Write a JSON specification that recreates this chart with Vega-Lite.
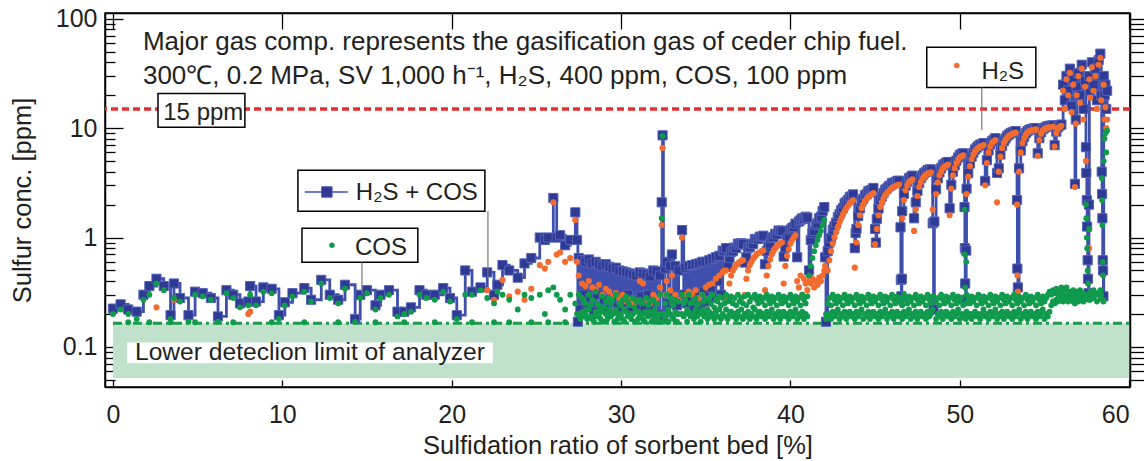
{
"$schema":"https://vega.github.io/schema/vega-lite/v6.json",
"width":1025,"height":374,"autosize":"none",
"padding":{"left":105,"top":13,"right":14,"bottom":75},
"background":"white",
"config":{"view":{"stroke":"black","strokeWidth":1.5},"font":"Liberation Sans",
"axis":{"grid":false,"domainColor":"black","domainWidth":1.5,"tickColor":"black","tickWidth":1.3,"labelColor":"#231f20","labelFont":"Liberation Sans","titleFont":"Liberation Sans","titleFontWeight":"normal","titleColor":"#231f20"}},
"datasets":{"s":[
{"x":0,"b":0.224,"c":0.2},{"x":0.45,"b":0.245,"c":0.22},{"x":0.9,"b":0.22,"c":0.2,"d":0.168},{"x":1.4,"b":0.21,"c":0.18},{"x":1.8,"b":0.3,"c":0.27},{"x":2.15,"b":0.36,"c":0.3,"d":0.168},{"x":2.57,"b":0.42,"c":0.38,"h":0.23},{"x":3.0,"b":0.36,"c":0.33},{"x":3.4,"b":0.195,"c":0.18,"d":0.168},{"x":3.6,"b":0.38,"c":0.28,"h":0.27},{"x":3.96,"b":0.28,"c":0.26},{"x":4.46,"b":0.195,"c":0.17},{"x":4.85,"b":0.32,"c":0.3,"d":0.168},{"x":5.3,"b":0.31,"c":0.29},{"x":5.78,"b":0.28,"c":0.27},{"x":6.2,"b":0.19,"c":0.17},{"x":6.7,"b":0.33,"c":0.31},{"x":7.1,"b":0.3,"c":0.28,"d":0.168},{"x":7.5,"b":0.25,"c":0.23},{"x":7.99,"b":0.26,"c":0.24,"h":0.2},{"x":8.1,"b":0.36,"c":0.3,"h":0.21},{"x":8.45,"b":0.26,"c":0.24},{"x":8.88,"b":0.35,"c":0.32},{"x":9.37,"b":0.34,"c":0.31,"d":0.168},{"x":9.8,"b":0.195,"c":0.18},{"x":10.15,"b":0.256,"c":0.24},{"x":10.6,"b":0.31,"c":0.29},{"x":11.3,"b":0.345,"c":0.32,"d":0.168},{"x":11.7,"b":0.27,"c":0.26},{"x":12.3,"b":0.41,"c":0.38},{"x":12.8,"b":0.3,"c":0.28},{"x":13.3,"b":0.27,"c":0.25,"d":0.168},{"x":13.7,"b":0.37,"c":0.34},{"x":14.3,"b":0.18,"c":0.17},{"x":14.6,"b":0.3,"c":0.28},{"x":15.0,"b":0.33,"c":0.31},{"x":15.5,"b":0.24,"c":0.22,"d":0.168},{"x":15.8,"b":0.3,"c":0.28},{"x":16.3,"b":0.33,"c":0.3},{"x":16.8,"b":0.21,"c":0.19},{"x":17.2,"b":0.21,"c":0.2,"d":0.168},{"x":17.6,"b":0.23,"c":0.21},{"x":18.1,"b":0.33,"c":0.3},{"x":18.5,"b":0.3,"c":0.28},{"x":19.0,"b":0.3,"c":0.27,"d":0.168},{"x":19.5,"b":0.345,"c":0.32},{"x":19.9,"b":0.28,"c":0.26},{"x":20.3,"b":0.195,"c":0.18},{"x":20.8,"b":0.5,"c":0.3},{"x":21.2,"b":0.32,"c":0.3,"d":0.168},{"x":21.7,"b":0.35,"c":0.33},{"x":22.1,"b":0.48,"h":0.33,"c":0.28},{"x":22.5,"b":0.3,"h":0.27,"c":0.25,"d":0.168},{"x":22.7,"b":0.37,"c":0.32},{"x":23.0,"b":0.56,"h":0.41,"c":0.3},{"x":23.4,"b":0.5,"h":0.29,"c":0.27,"d":0.168},{"x":23.9,"b":0.43,"h":0.32,"c":0.22},{"x":24.3,"b":0.58,"h":0.27,"c":0.3},{"x":24.7,"b":0.65,"h":0.34,"c":0.28,"d":0.168},{"x":25.2,"b":1.0,"h":0.56,"c":0.3},{"x":25.5,"b":0.95,"h":0.52,"c":0.2},{"x":25.7,"b":1.0,"h":0.6,"c":0.33,"d":0.168},{"x":26.0,"b":2.3,"h":2.1,"c":0.35},{"x":26.2,"b":1.0,"h":0.7,"c":0.3},{"x":26.4,"b":1.05,"h":0.73,"c":0.27},{"x":26.7,"b":0.85,"h":0.6,"c":0.22,"d":0.168},{"x":27.0,"b":0.95,"h":0.65,"c":0.3},{"x":27.3,"b":1.7,"h":1.45,"c":0.25},{"x":27.4,"b":0.95,"h":0.6,"c":0.2},{"x":27.45,"b":0.17},
{"x":27.5,"b":0.65,"h":0.45,"c":0.3,"d":0.2},{"x":27.6,"b":0.22,"c":0.2,"d":0.18},{"x":27.7,"b":0.62,"h":0.38,"c":0.28,"d":0.21},{"x":27.8,"b":0.3,"c":0.26,"d":0.19},{"x":27.9,"b":0.6,"h":0.36,"c":0.25,"d":0.2},{"x":28.0,"b":0.25,"c":0.22,"d":0.18},{"x":28.1,"b":0.63,"h":0.4,"c":0.3,"d":0.22},{"x":28.2,"b":0.28,"c":0.24,"d":0.19},{"x":28.3,"b":0.58,"h":0.35,"c":0.27,"d":0.18},{"x":28.4,"b":0.21,"c":0.19,"d":0.17},{"x":28.5,"b":0.6,"h":0.33,"c":0.32,"d":0.21},{"x":28.6,"b":0.3,"c":0.25,"d":0.19},{"x":28.7,"b":0.57,"h":0.37,"c":0.24,"d":0.2},{"x":28.8,"b":0.24,"c":0.22,"d":0.18},{"x":28.9,"b":0.55,"h":0.3,"c":0.29,"d":0.21},{"x":29.0,"b":0.27,"c":0.23,"d":0.17},{"x":29.1,"b":0.57,"h":0.34,"c":0.26,"d":0.2},{"x":29.2,"b":0.22,"c":0.2,"d":0.18},{"x":29.3,"b":0.54,"h":0.32,"c":0.28,"d":0.22},{"x":29.4,"b":0.3,"c":0.25,"d":0.19},{"x":29.5,"b":0.52,"h":0.29,"c":0.27,"d":0.2},{"x":29.6,"b":0.26,"c":0.21,"d":0.17},{"x":29.7,"b":0.53,"h":0.31,"c":0.3,"d":0.22},{"x":29.8,"b":0.23,"c":0.2,"d":0.18},{"x":29.9,"b":0.5,"h":0.28,"c":0.25,"d":0.19},{"x":30.0,"b":0.28,"c":0.24,"d":0.2},{"x":30.1,"b":0.49,"h":0.3,"c":0.27,"d":0.18},{"x":30.2,"b":0.25,"c":0.22,"d":0.17},{"x":30.3,"b":0.48,"h":0.26,"c":0.29,"d":0.21},{"x":30.4,"b":0.3,"c":0.26,"d":0.19},{"x":30.5,"b":0.47,"h":0.27,"c":0.24,"d":0.2},{"x":30.6,"b":0.22,"c":0.2,"d":0.18},{"x":30.7,"b":0.46,"h":0.25,"c":0.28,"d":0.2},{"x":30.8,"b":0.27,"c":0.23,"d":0.17},{"x":30.9,"b":0.45,"h":0.26,"c":0.26,"d":0.21},{"x":31.0,"b":0.24,"c":0.21,"d":0.18},{"x":31.1,"b":0.48,"h":0.4,"c":0.27,"d":0.19},{"x":31.2,"b":0.29,"c":0.25,"d":0.2},{"x":31.3,"b":0.47,"h":0.38,"c":0.25,"d":0.18},{"x":31.4,"b":0.23,"c":0.21,"d":0.17},{"x":31.5,"b":0.46,"h":0.27,"c":0.28,"d":0.2},{"x":31.6,"b":0.3,"c":0.24,"d":0.19},{"x":31.7,"b":0.44,"h":0.25,"c":0.26,"d":0.21},{"x":31.8,"b":0.22,"c":0.2,"d":0.17},{"x":31.9,"b":0.5,"h":0.3,"c":0.27,"d":0.19},{"x":32.0,"b":0.26,"c":0.22,"d":0.18},{"x":32.1,"b":0.49,"h":0.28,"c":0.25,"d":0.2},{"x":32.2,"b":0.2,"c":0.19,"d":0.17},{"x":32.3,"b":0.45,"h":0.35,"c":0.3,"d":0.2},{"x":32.4,"b":2.1,"h":1.3,"c":1.5},{"x":32.45,"b":8.6,"h":6.6,"c":8.5},{"x":32.5,"b":0.18,"c":0.2,"d":0.17},{"x":32.6,"b":0.52,"h":0.3,"c":0.25,"d":0.19},{"x":32.7,"b":0.6,"h":0.4,"c":0.3,"d":0.2},{"x":32.8,"b":0.25,"c":0.22,"d":0.17},{"x":32.9,"b":0.55,"h":0.33,"c":0.28,"d":0.2},{"x":33.0,"b":0.7,"h":0.45,"c":0.25,"d":0.19},{"x":33.1,"b":0.28,"c":0.24,"d":0.18},{"x":33.2,"b":0.55,"h":0.3,"c":0.27,"d":0.21},{"x":33.3,"b":0.24,"c":0.2,"d":0.17},{"x":33.4,"b":0.5,"h":0.27,"c":0.26,"d":0.2},{"x":33.6,"b":1.17,"h":1.0,"c":0.3,"d":0.2},{"x":33.7,"b":0.3,"c":0.25,"d":0.19},{"x":33.8,"b":0.53,"h":0.3,"c":0.27,"d":0.2},{"x":33.9,"b":0.25,"c":0.22,"d":0.17},{"x":34.0,"b":0.55,"h":0.32,"c":0.3,"d":0.21},{"x":34.1,"b":0.28,"c":0.25,"d":0.19},{"x":34.2,"b":0.56,"h":0.3,"c":0.26,"d":0.2},{"x":34.3,"b":0.22,"c":0.2,"d":0.18},{"x":34.4,"b":0.57,"h":0.33,"c":0.28,"d":0.22},{"x":34.5,"b":0.3,"c":0.24,"d":0.19},{"x":34.6,"b":0.58,"h":0.28,"c":0.25,"d":0.2},{"x":34.7,"b":0.24,"c":0.21,"d":0.17},{"x":34.8,"b":0.6,"h":0.3,"c":0.3,"d":0.22},{"x":34.9,"b":0.32,"c":0.26,"d":0.19},{"x":35.0,"b":0.6,"h":0.35,"c":0.27,"d":0.2},{"x":35.1,"b":0.26,"c":0.22,"d":0.18},{"x":35.2,"b":0.62,"h":0.37,"c":0.28,"d":0.21},{"x":35.3,"b":0.35,"c":0.25,"d":0.19},{"x":35.4,"b":0.64,"h":0.38,"c":0.3,"d":0.2},{"x":35.5,"b":0.28,"c":0.23,"d":0.18},{"x":35.6,"b":0.66,"h":0.42,"c":0.27,"d":0.21},{"x":35.7,"b":0.4,"c":0.26,"d":0.19},{"x":35.8,"b":0.68,"h":0.45,"c":0.29,"d":0.22},{"x":35.9,"b":0.3,"c":0.24,"d":0.18},{"x":36.0,"b":0.76,"h":0.48,"c":0.28,"d":0.2},
{"x":36.1,"b":0.75,"h":0.5,"c":0.25,"d":0.19},{"x":36.2,"b":0.8,"h":0.5,"c":0.3,"d":0.22},{"x":36.3,"b":0.54,"h":0.28,"c":0.26,"d":0.18},{"x":36.4,"b":0.65,"h":0.38,"c":0.27,"d":0.2},{"x":36.5,"b":0.74,"h":0.45,"c":0.29,"d":0.21},{"x":36.6,"b":0.75,"h":0.5,"c":0.25,"d":0.19},{"x":36.7,"b":0.81,"h":0.53,"c":0.28,"d":0.2},{"x":36.8,"b":0.8,"h":0.56,"c":0.24,"d":0.18},{"x":36.9,"b":0.88,"h":0.58,"c":0.3,"d":0.21},{"x":37.0,"b":0.86,"h":0.6,"c":0.26,"d":0.19},{"x":37.1,"b":0.89,"h":0.61,"c":0.28,"d":0.22},{"x":37.2,"b":0.87,"h":0.62,"c":0.25,"d":0.18},{"x":37.3,"b":0.59,"h":0.3,"c":0.29,"d":0.2},{"x":37.4,"b":0.66,"h":0.42,"c":0.24,"d":0.19},{"x":37.5,"b":0.8,"h":0.5,"c":0.3,"d":0.21},{"x":37.6,"b":0.82,"h":0.56,"c":0.26,"d":0.18},{"x":37.7,"b":0.88,"h":0.6,"c":0.28,"d":0.2},{"x":37.8,"b":0.87,"h":0.64,"c":0.23,"d":0.19},{"x":37.9,"b":0.97,"h":0.67,"c":0.3,"d":0.22},{"x":38.0,"b":0.97,"h":0.7,"c":0.27,"d":0.18},{"x":38.1,"b":0.97,"h":0.72,"c":0.25,"d":0.2},{"x":38.2,"b":1.02,"h":0.73,"c":0.29,"d":0.21},{"x":38.3,"b":1.01,"h":0.75,"c":0.26,"d":0.19},{"x":38.4,"b":1.04,"h":0.76,"c":0.28,"d":0.2},{"x":38.5,"b":0.57,"h":0.33,"c":0.24,"d":0.18},{"x":38.6,"b":0.75,"h":0.45,"c":0.3,"d":0.21},{"x":38.7,"b":0.82,"h":0.55,"c":0.27,"d":0.19},{"x":38.8,"b":0.88,"h":0.63,"c":0.25,"d":0.2},{"x":38.9,"b":0.99,"h":0.7,"c":0.29,"d":0.22},{"x":39.0,"b":1.01,"h":0.75,"c":0.26,"d":0.18},{"x":39.1,"b":1.08,"h":0.8,"c":0.28,"d":0.2},{"x":39.2,"b":1.07,"h":0.83,"c":0.24,"d":0.19},{"x":39.3,"b":1.16,"h":0.86,"c":0.3,"d":0.21},{"x":39.4,"b":1.15,"h":0.88,"c":0.27,"d":0.18},{"x":39.5,"b":1.15,"h":0.9,"c":0.25,"d":0.2},{"x":39.6,"b":0.67,"h":0.38,"c":0.29,"d":0.21},{"x":39.7,"b":0.81,"h":0.55,"c":0.26,"d":0.19},{"x":39.8,"b":0.96,"h":0.68,"c":0.28,"d":0.2},{"x":39.9,"b":1.02,"h":0.78,"c":0.24,"d":0.18},{"x":40.0,"b":1.18,"h":0.88,"c":0.3,"d":0.21},{"x":40.1,"b":1.22,"h":0.95,"c":0.27,"d":0.19},{"x":40.2,"b":1.25,"h":1.0,"c":0.25,"d":0.2},{"x":40.3,"b":1.34,"h":1.05,"c":0.29,"d":0.22},{"x":40.4,"b":0.66,"h":0.4,"c":0.26,"d":0.18},{"x":40.5,"b":1.4,"h":0.35,"c":0.28,"d":0.2},{"x":40.6,"b":1.45,"h":0.45,"c":0.24,"d":0.19},{"x":40.7,"b":1.5,"h":0.3,"c":0.3,"d":0.21},{"x":40.8,"b":1.48,"h":0.42,"c":0.27,"d":0.18},{"x":40.9,"b":1.55,"h":0.38,"c":0.25,"d":0.2},{"x":41.0,"b":1.52,"h":0.33,"c":0.29,"d":0.19},{"x":41.1,"b":0.5,"h":0.4,"c":0.45},{"x":41.2,"b":0.95,"h":0.38,"c":0.55},{"x":41.3,"b":1.1,"h":0.42,"c":0.65},{"x":41.4,"b":1.15,"h":0.35,"c":0.75},{"x":41.5,"b":1.3,"h":0.4,"c":0.85},{"x":41.6,"b":1.35,"h":0.37,"c":0.95},{"x":41.7,"b":1.5,"h":0.43,"c":1.05},{"x":41.8,"b":1.55,"h":0.4,"c":1.15},{"x":41.9,"b":1.75,"h":0.45,"c":1.3},{"x":42.0,"b":1.9,"h":0.5,"c":1.45},{"x":42.05,"b":0.66,"h":0.55},{"x":42.1,"b":0.17,"c":0.2,"d":0.18},
{"x":42.2,"b":0.75,"h":0.5,"c":0.25,"d":0.19},{"x":42.3,"b":0.9,"h":0.62,"c":0.28,"d":0.2},{"x":42.4,"b":0.99,"h":0.75,"c":0.24,"d":0.18},{"x":42.5,"b":1.18,"h":0.88,"c":0.3,"d":0.21},{"x":42.6,"b":1.27,"h":1.0,"c":0.27,"d":0.19},{"x":42.7,"b":1.37,"h":1.12,"c":0.25,"d":0.2},{"x":42.8,"b":1.54,"h":1.25,"c":0.29,"d":0.22},{"x":42.9,"b":1.64,"h":1.38,"c":0.26,"d":0.18},{"x":43.0,"b":1.78,"h":1.5,"c":0.28,"d":0.2},{"x":43.1,"b":1.86,"h":1.62,"c":0.24,"d":0.19},{"x":43.2,"b":2.05,"h":1.75,"c":0.3,"d":0.21},{"x":43.3,"b":2.12,"h":1.85,"c":0.27,"d":0.18},{"x":43.4,"b":2.2,"h":1.95,"c":0.25,"d":0.2},{"x":43.5,"b":2.34,"h":2.05,"c":0.29,"d":0.21},{"x":43.6,"b":2.38,"h":2.12,"c":0.26,"d":0.19},{"x":43.7,"b":2.48,"h":2.2,"c":0.28,"d":0.2},{"x":43.8,"b":0.8,"h":0.53,"c":0.24,"d":0.18},{"x":43.85,"b":1.1},{"x":43.9,"b":1.2,"h":0.9,"c":0.3,"d":0.21},{"x":44.0,"b":1.57,"h":1.3,"c":0.27,"d":0.19},{"x":44.1,"b":1.85,"h":1.6,"c":0.25,"d":0.2},{"x":44.2,"b":2.14,"h":1.85,"c":0.29,"d":0.22},{"x":44.3,"b":2.26,"h":2.0,"c":0.26,"d":0.18},{"x":44.4,"b":2.43,"h":2.15,"c":0.28,"d":0.2},{"x":44.5,"b":2.49,"h":2.25,"c":0.24,"d":0.19},{"x":44.6,"b":2.65,"h":2.35,"c":0.3,"d":0.21},{"x":44.7,"b":2.69,"h":2.42,"c":0.27,"d":0.18},{"x":44.8,"b":2.73,"h":2.48,"c":0.25,"d":0.2},{"x":44.9,"b":2.84,"h":2.55,"c":0.29,"d":0.21},{"x":45.0,"b":1.2,"h":0.87,"c":0.26,"d":0.19},{"x":45.05,"b":0.9},{"x":45.1,"b":1.48,"h":1.2,"c":0.28,"d":0.2},{"x":45.2,"b":1.84,"h":1.6,"c":0.24,"d":0.18},{"x":45.3,"b":2.2,"h":1.9,"c":0.3,"d":0.21},{"x":45.4,"b":2.37,"h":2.1,"c":0.27,"d":0.19},{"x":45.5,"b":2.55,"h":2.3,"c":0.25,"d":0.2},{"x":45.6,"b":2.74,"h":2.45,"c":0.29,"d":0.22},{"x":45.7,"b":2.81,"h":2.55,"c":0.26,"d":0.18},{"x":45.8,"b":2.93,"h":2.65,"c":0.28,"d":0.2},{"x":45.9,"b":2.99,"h":2.75,"c":0.24,"d":0.19},{"x":46.0,"b":3.15,"h":2.85,"c":0.3,"d":0.21},{"x":46.1,"b":3.17,"h":2.9,"c":0.27,"d":0.18},{"x":46.2,"b":3.2,"h":2.95,"c":0.25,"d":0.2},{"x":46.3,"b":3.29,"h":3.0,"c":0.29,"d":0.21},{"x":46.4,"b":3.31,"h":3.05,"c":0.26,"d":0.19},{"x":46.5,"b":1.24,"c":0.28,"d":0.2},{"x":46.52,"b":0.41},{"x":46.55,"b":0.29,"c":0.25},{"x":46.58,"b":0.42},{"x":46.6,"b":1.74,"h":1.5,"c":0.24,"d":0.18},{"x":46.7,"b":2.5,"h":2.2,"c":0.3,"d":0.21},{"x":46.8,"b":2.97,"h":2.7,"c":0.27,"d":0.19},{"x":46.9,"b":3.25,"h":3.0,"c":0.25,"d":0.2},{"x":47.0,"b":3.49,"h":3.2,"c":0.29,"d":0.22},{"x":47.1,"b":3.56,"h":3.3,"c":0.26,"d":0.18},{"x":47.2,"b":3.68,"h":3.4,"c":0.28,"d":0.2},{"x":47.3,"b":1.5,"h":1.15,"c":0.24,"d":0.19},{"x":47.4,"b":2.1,"h":1.8,"c":0.3,"d":0.21},{"x":47.5,"b":2.67,"h":2.4,"c":0.27,"d":0.18},{"x":47.6,"b":3.15,"h":2.9,"c":0.25,"d":0.2},{"x":47.7,"b":3.49,"h":3.2,"c":0.29,"d":0.21},{"x":47.8,"b":3.71,"h":3.45,"c":0.26,"d":0.19},{"x":47.9,"b":3.88,"h":3.6,"c":0.28,"d":0.2},{"x":48.0,"b":3.99,"h":3.75,"c":0.24,"d":0.18},{"x":48.1,"b":4.15,"h":3.85,"c":0.3,"d":0.21},{"x":48.2,"b":4.17,"h":3.9,"c":0.27,"d":0.19},{"x":48.3,"b":4.2,"h":3.95,"c":0.25,"d":0.2},{"x":48.4,"b":1.35,"h":1.8,"c":0.29,"d":0.22},{"x":48.45,"b":0.22},{"x":48.5,"b":1.4},{"x":48.6,"b":2.76,"h":2.5,"c":0.26,"d":0.18},{"x":48.7,"b":3.48,"h":3.2,"c":0.28,"d":0.2},{"x":48.8,"b":3.94,"h":3.7,"c":0.24,"d":0.19},{"x":48.9,"b":4.3,"h":4.0,"c":0.3,"d":0.21},{"x":49.0,"b":4.57,"h":4.3,"c":0.27,"d":0.18},{"x":49.1,"b":4.7,"h":4.45,"c":0.25,"d":0.2},{"x":49.2,"b":4.84,"h":4.55,"c":0.29,"d":0.21},{"x":49.3,"b":4.91,"h":4.65,"c":0.26,"d":0.19},{"x":49.4,"b":1.85,"h":1.6,"c":0.28,"d":0.2},{"x":49.5,"b":3.04,"h":2.8,"c":0.24,"d":0.18},{"x":49.6,"b":4.0,"h":3.7,"c":0.3,"d":0.21},{"x":49.7,"b":4.57,"h":4.3,"c":0.27,"d":0.19},{"x":49.8,"b":5.05,"h":4.8,"c":0.25,"d":0.2},{"x":49.9,"b":5.39,"h":5.1,"c":0.29,"d":0.22},{"x":50.0,"b":5.66,"h":5.4,"c":0.26,"d":0.18},{"x":50.1,"b":5.83,"h":5.55,"c":0.28,"d":0.2},{"x":50.2,"b":5.89,"h":5.65,"c":0.24,"d":0.19},{"x":50.28,"b":1.9,"c":1.8},{"x":50.3,"b":0.8,"c":0.7,"d":0.2},{"x":50.32,"b":0.38,"c":0.35},{"x":50.35,"b":0.27,"c":0.25,"d":0.18},{"x":50.38,"b":0.76,"c":0.6},{"x":50.4,"b":2.8,"h":2.5,"c":0.3,"d":0.21},{"x":50.5,"b":3.87,"h":3.6,"c":0.27,"d":0.19},{"x":50.6,"b":4.75,"h":4.5,"c":0.25,"d":0.2},{"x":50.7,"b":5.49,"h":5.2,"c":0.29,"d":0.18},{"x":50.8,"b":5.96,"h":5.7,"c":0.26,"d":0.2},{"x":50.9,"b":6.38,"h":6.1,"c":0.28,"d":0.21},{"x":51.0,"b":6.64,"h":6.4,"c":0.24,"d":0.19},{"x":51.1,"b":6.9,"h":6.6,"c":0.3,"d":0.2},{"x":51.2,"b":7.07,"h":6.8,"c":0.27,"d":0.18},{"x":51.3,"b":7.15,"h":6.9,"c":0.25,"d":0.2},{"x":51.4,"b":7.3,"h":7.0,"c":0.29,"d":0.22},{"x":51.5,"b":3.3,"h":3.0,"c":0.26,"d":0.19},{"x":51.6,"b":5.1,"h":4.8,"c":0.28,"d":0.2},{"x":51.7,"b":6.25,"h":6.0,"c":0.24,"d":0.18},{"x":51.8,"b":7.1,"h":6.8,"c":0.3,"d":0.21},{"x":51.9,"b":7.6,"h":7.3,"c":0.27,"d":0.19},{"x":52.0,"b":7.85,"h":7.6,"c":0.25,"d":0.2},{"x":52.1,"b":8.1,"h":7.8,"c":0.29,"d":0.22},{"x":52.2,"b":3.9,"h":2.1,"c":0.26,"d":0.18},{"x":52.3,"b":4.3,"h":4.0,"c":0.28,"d":0.2},{"x":52.4,"b":5.75,"h":5.5,"c":0.24,"d":0.19},{"x":52.5,"b":6.9,"h":6.6,"c":0.3,"d":0.21},{"x":52.6,"b":7.6,"h":7.3,"c":0.27,"d":0.18},{"x":52.7,"b":8.05,"h":7.8,"c":0.25,"d":0.2},{"x":52.8,"b":8.5,"h":8.2,"c":0.29,"d":0.21},{"x":52.9,"b":8.75,"h":8.5,"c":0.26,"d":0.19},{"x":53.0,"b":9.0,"h":8.7,"c":0.28,"d":0.2},{"x":53.1,"b":9.15,"h":8.9,"c":0.24,"d":0.18},{"x":53.2,"b":9.3,"h":9.0,"c":0.3,"d":0.21},{"x":53.3,"b":9.4,"h":9.1,"c":0.27,"d":0.19},{"x":53.38,"b":2.2,"h":2.0},{"x":53.4,"b":0.52,"h":0.45,"c":0.25,"d":0.2},{"x":53.43,"b":0.35,"h":0.32},{"x":53.5,"b":4.3,"h":4.0,"c":0.29,"d":0.22},{"x":53.6,"b":6.25,"h":6.0,"c":0.26,"d":0.18},{"x":53.7,"b":7.6,"h":7.3,"c":0.28,"d":0.2},{"x":53.8,"b":8.35,"h":8.1,"c":0.24,"d":0.19},{"x":53.9,"b":9.0,"h":8.7,"c":0.3,"d":0.21},{"x":54.0,"b":9.4,"h":9.1,"c":0.27,"d":0.18},{"x":54.1,"b":9.65,"h":9.4,"c":0.25,"d":0.2},{"x":54.2,"b":9.8,"h":9.5,"c":0.29,"d":0.21},{"x":54.3,"b":9.85,"h":9.6,"c":0.26,"d":0.19},{"x":54.4,"b":10.0,"h":9.7,"c":0.28,"d":0.2},{"x":54.5,"b":10.0,"h":9.75,"c":0.24,"d":0.18},{"x":54.6,"b":5.9,"h":5.6,"c":0.3,"d":0.21},{"x":54.7,"b":8.1,"h":7.8,"c":0.27,"d":0.19},{"x":54.8,"b":9.15,"h":8.9,"c":0.25,"d":0.2},{"x":54.9,"b":9.8,"h":9.5,"c":0.29,"d":0.22},{"x":55.0,"b":10.05,"h":9.8,"c":0.26,"d":0.18},{"x":55.1,"b":10.3,"h":10.0,"c":0.28,"d":0.2},{"x":55.2,"b":10.4,"h":10.1,"c":0.3,"d":0.19},{"x":55.3,"b":10.5,"h":10.2,"c":0.32,"d":0.21},{"x":55.4,"b":10.55,"h":10.25,"c":0.3,"d":0.24},{"x":55.5,"b":10.6,"h":10.3,"c":0.33,"d":0.26},{"x":55.6,"b":7.0,"h":6.8,"c":0.31,"d":0.25},{"x":55.7,"b":9.3,"h":9.0,"c":0.34,"d":0.27},{"x":55.8,"b":10.2,"h":9.9,"c":0.3,"d":0.26},{"x":55.9,"b":10.6,"h":10.3,"c":0.33,"d":0.28},{"x":56.0,"b":10.8,"h":10.5,"c":0.35,"d":0.27},
{"x":56.1,"b":25,"h":22,"c":0.3,"d":0.26},{"x":56.2,"b":18,"h":15,"c":0.33,"d":0.28},{"x":56.3,"b":30,"h":28,"c":0.35,"d":0.27},{"x":56.4,"b":22,"h":20,"c":0.3,"d":0.26},{"x":56.5,"b":35,"h":32,"c":0.32,"d":0.28},{"x":56.6,"b":16,"h":14,"c":0.29,"d":0.27},{"x":56.7,"b":28,"h":25,"c":0.33,"d":0.26},{"x":56.8,"b":3.1,"h":2.9,"c":0.3,"d":0.25},{"x":56.85,"b":12,"h":11},{"x":56.9,"b":24,"h":20,"c":0.32,"d":0.27},{"x":57.0,"b":32,"h":30,"c":0.29,"d":0.26},{"x":57.1,"b":20,"h":17,"c":0.33,"d":0.28},{"x":57.2,"b":38,"h":35,"c":0.3,"d":0.27},{"x":57.3,"b":15,"h":12,"c":0.31,"d":0.26},{"x":57.4,"b":27,"h":24,"c":0.3,"d":0.28},{"x":57.45,"b":6.7,"h":5,"c":2},{"x":57.47,"b":3.9,"c":1.5},{"x":57.5,"b":2.2,"c":1.0},{"x":57.52,"b":1.26,"c":0.8},{"x":57.55,"b":0.62,"c":0.5},{"x":57.57,"b":0.42,"c":0.38},{"x":57.6,"b":0.31,"c":0.28,"d":0.27},{"x":57.63,"b":2,"h":0.8,"c":1.2},{"x":57.65,"b":30,"h":28,"c":0.3},{"x":57.7,"b":22,"h":19,"c":0.32,"d":0.27},{"x":57.8,"b":40,"h":36,"c":0.29},{"x":57.9,"b":25,"h":22,"c":0.33,"d":0.28},{"x":58.0,"b":35,"h":30,"c":0.3},{"x":58.1,"b":18,"h":15,"c":0.31,"d":0.26},{"x":58.2,"b":42,"h":38,"c":0.3},{"x":58.3,"b":48,"h":44,"c":0.33,"d":0.28},{"x":58.35,"b":20,"h":18,"c":0.3},{"x":58.38,"b":4,"c":3.5},{"x":58.4,"b":2.5,"c":2.2},{"x":58.42,"b":1.5,"c":1.3},{"x":58.44,"b":0.62,"c":0.6},{"x":58.46,"b":0.5,"c":0.45},{"x":58.48,"b":0.29,"c":0.27,"d":0.26},{"x":58.5,"b":30,"h":25,"c":5},{"x":58.55,"b":20,"h":12,"c":8},{"x":58.6,"b":25,"h":15.5,"c":9},{"x":58.65,"b":15,"h":10,"c":6},{"x":58.7,"b":22,"h":12,"c":9.5}
]},
"layer":[
{"data":{"values":[{}]},"mark":{"type":"rect","fill":"#c0e1ca"},
"encoding":{"x":{"datum":0,"type":"quantitative","scale":{"type":"linear","domain":[-0.47,60.05],"nice":false,"zero":false},
"axis":{"orient":"bottom","values":[0,10,20,30,40,50,60],"tickSize":-7,"labelPadding":22,"labelFontSize":25,"title":"Sulfidation ratio of sorbent bed [%]","titleFontSize":25.5,"titleY":58,"titleBaseline":"middle"}},
"x2":{"datum":60},
"y":{"datum":0.052,"type":"quantitative","scale":{"type":"log","domain":[0.043,113],"nice":false},
"axis":{"orient":"left","values":[0.1,1,10,100],"format":"~g","tickSize":-18,"labelPadding":26,"labelFontSize":25,"title":"Sulfur conc. [ppm]","titleFontSize":25.5,"titleX":-83,"titleY":187,"titleBaseline":"middle","titleAngle":-90}},
"y2":{"datum":0.165}}},
{"data":{"values":[{}]},"mark":{"type":"rule","stroke":"#1a9a4a","strokeWidth":3,"strokeDash":[9,4,3,4]},
"encoding":{"x":{"datum":0,"type":"quantitative","scale":{"type":"linear","domain":[-0.47,60.05],"nice":false,"zero":false},
"axis":{"orient":"top","values":[0,10,20,30,40,50,60],"tickSize":-16,"labels":false,"title":null}},
"x2":{"datum":60},
"y":{"datum":0.165,"type":"quantitative","scale":{"type":"log","domain":[0.043,113],"nice":false},
"axis":{"orient":"left","values":[0.05,0.06,0.07,0.08,0.09,0.2,0.3,0.4,0.5,0.6,0.7,0.8,0.9,2,3,4,5,6,7,8,9,20,30,40,50,60,70,80,90],"tickSize":-10,"labels":false,"domain":false,"title":null}}}},
{"data":{"values":[{}]},"mark":{"type":"rule","stroke":"#e62e2d","strokeWidth":3.5,"strokeDash":[7,4]},
"encoding":{"y":{"datum":15,"type":"quantitative","scale":{"type":"log","domain":[0.043,113],"nice":false},
"axis":{"orient":"right","values":[0.05,0.06,0.07,0.08,0.09,0.1,0.2,0.3,0.4,0.5,0.6,0.7,0.8,0.9,1,2,3,4,5,6,7,8,9,10,20,30,40,50,60,70,80,90,100],"tickSize":14,"labels":false,"title":null}}}},
{"transform":[{"filter":"isValid(datum.b)"}],"mark":{"type":"line","interpolate":"step-after","stroke":"#3f4fae","strokeWidth":2.8},
"encoding":{"x":{"field":"x","type":"quantitative","scale":{"type":"linear","domain":[-0.47,60.05],"nice":false,"zero":false},"axis":null},
"y":{"field":"b","type":"quantitative","scale":{"type":"log","domain":[0.043,113],"nice":false},"axis":null}}},
{"mark":{"type":"point","shape":"square","filled":true,"fill":"#2e3a94","stroke":"#5563b8","strokeWidth":1,"opacity":1,"size":84},
"encoding":{"x":{"field":"x","type":"quantitative","scale":{"type":"linear","domain":[-0.47,60.05],"nice":false,"zero":false},"axis":null},
"y":{"field":"b","type":"quantitative","scale":{"type":"log","domain":[0.043,113],"nice":false},"axis":null}}},
{"mark":{"type":"circle","color":"#f26b2f","opacity":1,"size":38},
"encoding":{"x":{"field":"x","type":"quantitative","scale":{"type":"linear","domain":[-0.47,60.05],"nice":false,"zero":false},"axis":null},
"y":{"field":"h","type":"quantitative","scale":{"type":"log","domain":[0.043,113],"nice":false},"axis":null}}},
{"mark":{"type":"circle","color":"#0f9a4c","opacity":1,"size":34},
"encoding":{"x":{"field":"x","type":"quantitative","scale":{"type":"linear","domain":[-0.47,60.05],"nice":false,"zero":false},"axis":null},
"y":{"field":"c","type":"quantitative","scale":{"type":"log","domain":[0.043,113],"nice":false},"axis":null}}},
{"mark":{"type":"circle","color":"#0f9a4c","opacity":1,"size":34},
"encoding":{"x":{"field":"x","type":"quantitative","scale":{"type":"linear","domain":[-0.47,60.05],"nice":false,"zero":false},"axis":null},
"y":{"field":"d","type":"quantitative","scale":{"type":"log","domain":[0.043,113],"nice":false},"axis":null}}},
{"data":{"values":[{}]},"mark":{"type":"rect","fill":"white","stroke":"black","strokeWidth":1.5},
"encoding":{"x":{"datum":2.66,"type":"quantitative","axis":null},"x2":{"datum":7.79},"y":{"datum":20.8,"type":"quantitative","scale":{"type":"log"},"axis":null},"y2":{"datum":10.2}}},
{"data":{"values":[{}]},"mark":{"type":"rect","fill":"white","stroke":"black","strokeWidth":1.5},
"encoding":{"x":{"datum":10.92,"type":"quantitative","axis":null},"x2":{"datum":21.96},"y":{"datum":4.12,"type":"quantitative","scale":{"type":"log"},"axis":null},"y2":{"datum":1.74}}},
{"data":{"values":[{}]},"mark":{"type":"rect","fill":"white","stroke":"black","strokeWidth":1.5},
"encoding":{"x":{"datum":11.16,"type":"quantitative","axis":null},"x2":{"datum":18.0},"y":{"datum":1.216,"type":"quantitative","scale":{"type":"log"},"axis":null},"y2":{"datum":0.594}}},
{"data":{"values":[{}]},"mark":{"type":"rect","fill":"white","stroke":"black","strokeWidth":1.5},
"encoding":{"x":{"datum":48.05,"type":"quantitative","axis":null},"x2":{"datum":54.49},"y":{"datum":54.9,"type":"quantitative","scale":{"type":"log"},"axis":null},"y2":{"datum":23.6}}},
{"data":{"values":[{}]},"mark":{"type":"rect","fill":"white"},
"encoding":{"x":{"datum":0.83,"type":"quantitative","axis":null},"x2":{"datum":22.43},"y":{"datum":0.11,"type":"quantitative","scale":{"type":"log"},"axis":null},"y2":{"datum":0.071}}},
{"data":{"values":[{}]},"mark":{"type":"rule","stroke":"#777777","strokeWidth":1.2},
"encoding":{"x":{"datum":22.14,"type":"quantitative","axis":null},"y":{"datum":1.74,"type":"quantitative","scale":{"type":"log"},"axis":null},"y2":{"datum":0.434}}},
{"data":{"values":[{}]},"mark":{"type":"rule","stroke":"#777777","strokeWidth":1.2},
"encoding":{"x":{"datum":14.7,"type":"quantitative","axis":null},"y":{"datum":0.594,"type":"quantitative","scale":{"type":"log"},"axis":null},"y2":{"datum":0.31}}},
{"data":{"values":[{}]},"mark":{"type":"rule","stroke":"#777777","strokeWidth":1.2},
"encoding":{"x":{"datum":51.3,"type":"quantitative","axis":null},"y":{"datum":23.6,"type":"quantitative","scale":{"type":"log"},"axis":null},"y2":{"datum":9.57}}},
{"data":{"values":[{}]},"mark":{"type":"rule","stroke":"#3f4fae","strokeWidth":1.5},
"encoding":{"x":{"datum":11.33,"type":"quantitative","axis":null},"x2":{"datum":13.87},"y":{"datum":2.61,"type":"quantitative","scale":{"type":"log"},"axis":null}}},
{"data":{"values":[{}]},"mark":{"type":"point","shape":"square","filled":true,"fill":"#2e3a94","stroke":"#5563b8","strokeWidth":1,"opacity":1,"size":110},
"encoding":{"x":{"datum":12.63,"type":"quantitative","axis":null},"y":{"datum":2.61,"type":"quantitative","scale":{"type":"log"},"axis":null}}},
{"data":{"values":[{}]},"mark":{"type":"circle","color":"#0f9a4c","opacity":1,"size":30},
"encoding":{"x":{"datum":12.93,"type":"quantitative","axis":null},"y":{"datum":0.85,"type":"quantitative","scale":{"type":"log"},"axis":null}}},
{"data":{"values":[{}]},"mark":{"type":"circle","color":"#f26b2f","opacity":1,"size":30},
"encoding":{"x":{"datum":49.82,"type":"quantitative","axis":null},"y":{"datum":37.5,"type":"quantitative","scale":{"type":"log"},"axis":null}}},
{"data":{"values":[{}]},"mark":{"type":"text","align":"left","baseline":"alphabetic","fontSize":26,"font":"Liberation Sans","color":"#231f20"},
"encoding":{"x":{"datum":1.77,"type":"quantitative","axis":null},"y":{"datum":51.5,"type":"quantitative","scale":{"type":"log"},"axis":null},"text":{"value":"Major gas comp. represents the gasification gas of ceder chip fuel."}}},
{"data":{"values":[{}]},"mark":{"type":"text","align":"left","baseline":"alphabetic","fontSize":26,"font":"Liberation Sans","color":"#231f20"},
"encoding":{"x":{"datum":1.77,"type":"quantitative","axis":null},"y":{"datum":25.6,"type":"quantitative","scale":{"type":"log"},"axis":null},"text":{"value":"300℃, 0.2 MPa, SV 1,000 h⁻¹, H₂S, 400 ppm, COS, 100 ppm"}}},
{"data":{"values":[{}]},"mark":{"type":"text","align":"left","baseline":"alphabetic","fontSize":24,"font":"Liberation Sans","color":"#231f20"},
"encoding":{"x":{"datum":2.97,"type":"quantitative","axis":null},"y":{"datum":11.98,"type":"quantitative","scale":{"type":"log"},"axis":null},"text":{"value":"15 ppm"}}},
{"data":{"values":[{}]},"mark":{"type":"text","align":"left","baseline":"alphabetic","fontSize":24,"font":"Liberation Sans","color":"#231f20"},
"encoding":{"x":{"datum":14.34,"type":"quantitative","axis":null},"y":{"datum":2.22,"type":"quantitative","scale":{"type":"log"},"axis":null},"text":{"value":"H₂S + COS"}}},
{"data":{"values":[{}]},"mark":{"type":"text","align":"left","baseline":"alphabetic","fontSize":24,"font":"Liberation Sans","color":"#231f20"},
"encoding":{"x":{"datum":14.29,"type":"quantitative","axis":null},"y":{"datum":0.689,"type":"quantitative","scale":{"type":"log"},"axis":null},"text":{"value":"COS"}}},
{"data":{"values":[{}]},"mark":{"type":"text","align":"left","baseline":"alphabetic","fontSize":24,"font":"Liberation Sans","color":"#231f20"},
"encoding":{"x":{"datum":51.28,"type":"quantitative","axis":null},"y":{"datum":28.4,"type":"quantitative","scale":{"type":"log"},"axis":null},"text":{"value":"H₂S"}}},
{"data":{"values":[{}]},"mark":{"type":"text","align":"left","baseline":"alphabetic","fontSize":24.6,"font":"Liberation Sans","color":"#231f20"},
"encoding":{"x":{"datum":1.3,"type":"quantitative","axis":null},"y":{"datum":0.0767,"type":"quantitative","scale":{"type":"log"},"axis":null},"text":{"value":"Lower deteclion limit of analyzer"}}}
],
"data":{"name":"s"},
"resolve":{"axis":{"x":"independent","y":"independent"}}
}
